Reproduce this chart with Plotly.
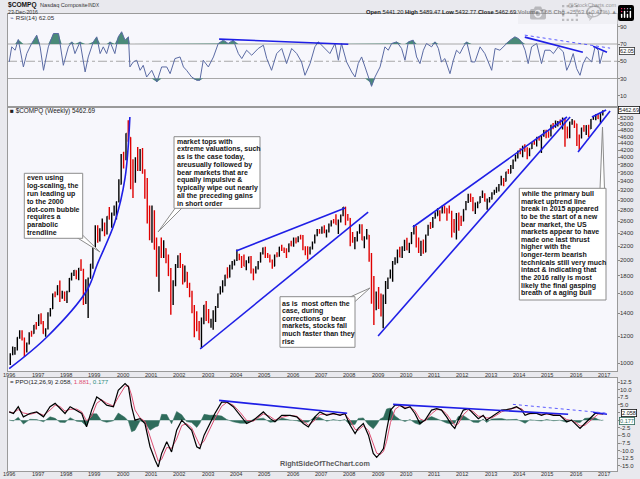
import numpy as np
import pandas as pd
import plotly.graph_objects as go
from datetime import datetime

# ---------------- DATA ----------------
bar_months = pd.date_range("1996-01-01", "2016-12-01", freq="MS") + pd.Timedelta(days=14)
first_open = 1052
price_close = [
    1060, 1100, 1101, 1191, 1243, 1185, 1081, 1141, 1227, 1222, 1293, 1291,
    1380, 1309, 1222, 1261, 1400, 1442, 1594, 1587, 1686, 1593, 1601, 1570,
    1619, 1771, 1835, 1868, 1779, 1895, 1873, 1499, 1694, 1771, 1950, 2193,
    2506, 2288, 2461, 2543, 2471, 2686, 2638, 2739, 2746, 2966, 3336, 4069,
    3940, 4697, 4573, 3861, 3401, 3966, 3767, 4206, 3673, 3370, 2598, 2471,
    2773, 2152, 1840, 2116, 2110, 2161, 2027, 1805, 1499, 1690, 1931, 1950,
    1934, 1731, 1845, 1688, 1616, 1463, 1328, 1315, 1172, 1330, 1479, 1336,
    1321, 1338, 1341, 1464, 1596, 1623, 1735, 1810, 1787, 1932, 1960, 2003,
    2066, 2030, 1994, 1920, 1987, 2048, 1887, 1838, 1897, 1975, 2097, 2175,
    2062, 2052, 1999, 1922, 2068, 2057, 2185, 2152, 2152, 2120, 2233, 2205,
    2306, 2281, 2340, 2323, 2179, 2172, 2091, 2184, 2258, 2367, 2432, 2415,
    2464, 2416, 2422, 2525, 2605, 2603, 2546, 2596, 2702, 2859, 2661, 2652,
    2390, 2271, 2279, 2413, 2523, 2293, 2326, 2368, 2092, 1721, 1536, 1577,
    1476, 1378, 1529, 1717, 1774, 1835, 1979, 2009, 2122, 2045, 2145, 2269,
    2147, 2238, 2398, 2461, 2257, 2109, 2255, 2114, 2369, 2507, 2498, 2653,
    2700, 2782, 2781, 2874, 2835, 2774, 2756, 2579, 2415, 2684, 2620, 2605,
    2814, 2967, 3091, 3046, 2827, 2935, 2940, 3067, 3116, 2977, 3010, 3020,
    3142, 3160, 3268, 3329, 3456, 3403, 3626, 3590, 3771, 3920, 4060, 4177,
    4104, 4308, 4199, 4115, 4243, 4408, 4370, 4580, 4493, 4631, 4792, 4736,
    4635, 4964, 4901, 4941, 5070, 4987, 5128, 4777, 4620, 5054, 5109, 5007,
    4614, 4558, 4870, 4775, 4948, 4843, 5162, 5213, 5312, 5189, 5324, 5463,
]
price_high = [
    1070, 1120, 1115, 1191, 1250, 1249, 1190, 1150, 1232, 1245, 1293, 1320,
    1390, 1400, 1330, 1265, 1410, 1450, 1600, 1620, 1690, 1745, 1630, 1620,
    1630, 1775, 1840, 1875, 1870, 1900, 2015, 1890, 1760, 1780, 1950, 2200,
    2530, 2530, 2480, 2650, 2580, 2690, 2865, 2760, 2890, 2970, 3450, 4090,
    4150, 4700, 5132, 4580, 3950, 4000, 4290, 4230, 4260, 3690, 3480, 2890,
    2890, 2800, 2330, 2200, 2330, 2290, 2170, 2080, 1900, 1750, 1950, 2070,
    2100, 1950, 1930, 1850, 1720, 1630, 1480, 1420, 1330, 1360, 1480, 1520,
    1440, 1350, 1430, 1470, 1600, 1680, 1750, 1815, 1910, 1940, 1990, 2010,
    2150, 2090, 2060, 2080, 2000, 2050, 2060, 1890, 1920, 1990, 2110, 2180,
    2190, 2100, 2080, 2010, 2080, 2110, 2190, 2220, 2180, 2170, 2240, 2280,
    2330, 2330, 2350, 2375, 2370, 2200, 2200, 2190, 2270, 2380, 2470, 2470,
    2510, 2530, 2460, 2560, 2620, 2640, 2725, 2630, 2720, 2861, 2870, 2730,
    2660, 2420, 2340, 2430, 2550, 2550, 2350, 2470, 2370, 2100, 1800, 1620,
    1670, 1600, 1590, 1740, 1780, 1880, 1990, 2040, 2150, 2190, 2200, 2295,
    2326, 2250, 2420, 2535, 2520, 2330, 2280, 2300, 2380, 2540, 2590, 2675,
    2765, 2840, 2800, 2885, 2890, 2840, 2890, 2790, 2640, 2750, 2760, 2700,
    2820, 2980, 3130, 3135, 3060, 2950, 2970, 3080, 3200, 3140, 3030, 3060,
    3160, 3215, 3270, 3340, 3530, 3480, 3630, 3700, 3800, 3940, 4070, 4180,
    4250, 4320, 4370, 4280, 4250, 4410, 4490, 4580, 4610, 4640, 4810, 4815,
    4770, 4980, 5040, 5120, 5110, 5160, 5230, 5180, 4920, 5090, 5180, 5120,
    5010, 4660, 4880, 4970, 4960, 4980, 5180, 5270, 5340, 5340, 5400, 5489,
]
price_low = [
    988, 1055, 1060, 1090, 1180, 1165, 1043, 1075, 1135, 1195, 1220, 1255,
    1285, 1300, 1220, 1195, 1255, 1370, 1440, 1560, 1580, 1510, 1545, 1520,
    1500, 1615, 1745, 1800, 1760, 1750, 1860, 1480, 1490, 1357, 1770, 1890,
    2170, 2250, 2270, 2430, 2350, 2380, 2630, 2490, 2700, 2630, 2950, 3330,
    3710, 3920, 4440, 3227, 3042, 3370, 3650, 3650, 3580, 3025, 2560, 2290,
    2250, 2150, 1790, 1619, 2030, 2030, 1960, 1800, 1387, 1480, 1680, 1900,
    1900, 1700, 1730, 1660, 1560, 1400, 1192, 1240, 1170, 1108, 1300, 1330,
    1310, 1270, 1253, 1320, 1450, 1590, 1610, 1680, 1770, 1780, 1880, 1930,
    1990, 2000, 1900, 1920, 1870, 1960, 1830, 1750, 1830, 1880, 1970, 2080,
    2030, 2030, 1970, 1890, 1920, 2040, 2050, 2130, 2100, 2030, 2110, 2200,
    2190, 2240, 2260, 2300, 2140, 2070, 2012, 2080, 2150, 2240, 2350, 2390,
    2390, 2400, 2330, 2410, 2510, 2560, 2540, 2386, 2580, 2690, 2530, 2610,
    2200, 2250, 2155, 2270, 2390, 2290, 2170, 2300, 1980, 1493, 1295, 1430,
    1440, 1370, 1265, 1490, 1650, 1770, 1730, 1940, 1960, 2040, 2030, 2130,
    2140, 2100, 2230, 2380, 2180, 2100, 2060, 2090, 2110, 2360, 2470, 2490,
    2650, 2700, 2600, 2740, 2740, 2610, 2740, 2330, 2410, 2300, 2440, 2520,
    2600, 2800, 2940, 2960, 2780, 2730, 2840, 2940, 3040, 2970, 2810, 2950,
    3010, 3110, 3150, 3180, 3310, 3290, 3400, 3580, 3590, 3700, 3890, 3970,
    4080, 4000, 4150, 3950, 4030, 4230, 4350, 4300, 4480, 4120, 4590, 4550,
    4560, 4600, 4830, 4880, 4920, 4960, 4820, 4292, 4540, 4550, 4980, 4870,
    4313, 4210, 4540, 4750, 4650, 4575, 4840, 5150, 5130, 5180, 5030, 5300,
]
price_open = [first_open] + price_close[:-1]

rsi_years = [
    1996.00, 1996.09, 1996.21, 1996.32, 1996.50, 1996.62, 1996.79, 1996.97,
    1997.09, 1997.21, 1997.38, 1997.56, 1997.74, 1997.85, 1997.91,
    1998.09, 1998.21, 1998.32, 1998.50, 1998.68, 1998.79, 1998.97,
    1999.09, 1999.21, 1999.32, 1999.44, 1999.56, 1999.73, 1999.85, 1999.97,
    2000.09, 2000.21, 2000.26, 2000.38, 2000.50, 2000.62, 2000.73, 2000.85,
    2001.03, 2001.21, 2001.38, 2001.56, 2001.68, 2001.85,
    2002.03, 2002.15, 2002.26, 2002.44, 2002.62, 2002.73, 2002.85,
    2003.03, 2003.21, 2003.38, 2003.56, 2003.73, 2003.91,
    2004.09, 2004.21, 2004.38, 2004.56, 2004.79, 2004.97,
    2005.09, 2005.26, 2005.44, 2005.62, 2005.79, 2005.97,
    2006.15, 2006.32, 2006.44, 2006.62, 2006.79, 2006.91, 2006.97,
    2007.15, 2007.32, 2007.50, 2007.62, 2007.73, 2007.91,
    2008.09, 2008.21, 2008.32, 2008.44, 2008.56, 2008.73, 2008.79, 2008.91,
    2009.09, 2009.26, 2009.38, 2009.50, 2009.68, 2009.85, 2009.97,
    2010.09, 2010.26, 2010.38, 2010.50, 2010.62, 2010.73, 2010.91,
    2011.03, 2011.15, 2011.26, 2011.38, 2011.56, 2011.68, 2011.79, 2011.91,
    2012.03, 2012.15, 2012.32, 2012.44, 2012.62, 2012.79, 2012.91,
    2013.03, 2013.15, 2013.32, 2013.50, 2013.68, 2013.85, 2013.97,
    2014.09, 2014.21, 2014.32, 2014.44, 2014.62, 2014.79, 2014.91,
    2015.09, 2015.21, 2015.38, 2015.56, 2015.68, 2015.79, 2015.91,
    2016.03, 2016.15, 2016.26, 2016.38, 2016.56, 2016.68, 2016.79, 2016.85, 2016.97,
]
rsi_values = [
    49.2, 66.7, 62.8, 75.2, 43.4, 58.9, 70.6, 80.3,
    66.7, 39.5, 66.7, 82.2, 82.2, 58.9, 45.3,
    66.7, 72.5, 58.9, 72.5, 37.6, 55.0, 72.5,
    78.3, 58.9, 66.7, 58.9, 72.5, 58.9, 78.3, 84.2,
    74.5, 78.3, 43.4, 49.2, 51.2, 39.5, 45.3, 31.7,
    39.5, 25.9, 43.4, 43.4, 35.6, 53.1,
    55.0, 43.4, 39.5, 31.7, 27.9, 27.9, 51.2,
    43.4, 55.0, 70.6, 74.5, 70.6, 74.5,
    58.9, 53.1, 62.8, 57.0, 64.8, 68.6,
    53.1, 39.5, 58.9, 64.8, 47.3, 64.8,
    58.9, 49.2, 33.7, 47.3, 66.7, 72.5, 70.6,
    64.8, 58.9, 70.6, 51.2, 70.6, 49.2,
    37.6, 31.7, 47.3, 55.0, 43.4, 25.9, 20.9, 31.7,
    43.4, 66.7, 62.8, 70.6, 72.5, 64.8, 51.2,
    72.5, 74.5, 55.0, 47.3, 62.8, 70.6, 66.7,
    72.5, 64.8, 49.2, 53.1, 35.6, 51.2, 62.8, 58.9,
    66.7, 72.5, 49.2, 49.2, 66.7, 58.9, 49.2,
    39.5, 64.8, 62.8, 68.6, 74.5, 78.3, 76.4,
    72.5, 62.8, 47.3, 66.7, 70.6, 47.3, 62.8,
    62.8, 58.9, 66.7, 60.9, 39.5, 47.3, 58.9,
    41.5, 33.7, 47.3, 55.0, 49.2, 66.7, 62.8, 47.3, 62.05,
]

ppo_years = [
    1996.00, 1996.15, 1996.32, 1996.50, 1996.73, 1996.97,
    1997.21, 1997.44, 1997.62, 1997.79, 1997.97,
    1998.15, 1998.38, 1998.56, 1998.73, 1998.91,
    1999.09, 1999.26, 1999.44, 1999.68, 1999.85,
    2000.09, 2000.21, 2000.32, 2000.44, 2000.62, 2000.79, 2000.97,
    2001.15, 2001.26, 2001.38, 2001.56, 2001.73, 2001.91,
    2002.09, 2002.26, 2002.44, 2002.62, 2002.73, 2002.88,
    2003.09, 2003.26, 2003.50, 2003.68, 2003.91,
    2004.15, 2004.38, 2004.62, 2004.97,
    2005.21, 2005.38, 2005.62, 2005.91,
    2006.15, 2006.38, 2006.56, 2006.79, 2006.97,
    2007.21, 2007.44, 2007.68, 2007.85,
    2008.03, 2008.21, 2008.32, 2008.50, 2008.68, 2008.85, 2008.97,
    2009.09, 2009.21, 2009.32, 2009.46, 2009.62, 2009.79, 2009.97,
    2010.15, 2010.32, 2010.50, 2010.68, 2010.91,
    2011.09, 2011.26, 2011.44, 2011.62, 2011.73, 2011.85,
    2012.03, 2012.21, 2012.38, 2012.56, 2012.73, 2012.85,
    2013.03, 2013.21, 2013.38, 2013.56, 2013.73, 2013.91,
    2014.09, 2014.21, 2014.38, 2014.62, 2014.79, 2014.97,
    2015.21, 2015.44, 2015.68, 2015.85,
    2016.03, 2016.15, 2016.32, 2016.50, 2016.68, 2016.79, 2016.91, 2016.97,
]
ppo_values = [
    2.7, 2.2, 4.4, 1.1, 2.2, 2.7,
    1.1, 4.4, 5.5, 3.8, 2.2,
    4.4, 3.3, 2.2, -2.2, 3.3,
    7.6, 6.5, 4.9, 4.4, 9.8,
    12.0, 10.9, 4.4, 0.0, 0.5, -1.1, -8.7,
    -13.1, -15.3, -10.9, -7.1, -10.4, -3.3,
    0.0, -1.6, -3.3, -8.7, -9.3, -4.9,
    -1.1, 2.2, 5.9, 6.0, 4.4,
    1.6, -1.1, 0.0, 2.7,
    0.5, -0.5, 1.6, 1.6,
    1.1, -1.1, -2.2, 1.1, 2.7,
    1.6, 2.2, 1.6, 2.2,
    -1.6, -4.4, -2.7, -1.1, -4.9, -10.9, -12.2,
    -10.9, -9.3, -3.3, 3.3, 4.9, 4.9, 3.8,
    4.4, 2.2, -1.1, 0.0, 3.3,
    3.8, 3.3, 1.1, -1.6, -2.7, 0.0,
    3.3, 3.8, 2.2, 0.5, 1.6, 0.0,
    1.1, 2.2, 3.3, 3.5, 3.8, 4.4,
    3.3, 1.6, 2.2, 2.2, 1.6, 2.2,
    1.6, 1.6, -0.5, 0.0,
    -1.6, -2.7, -1.1, 0.5, 2.2, 2.2, 1.96, 2.06,
]

# trend lines: (decimal years, values)
parabola_years = [1996.0, 1997.33, 1998.75, 1999.10, 1999.73, 2000.09, 2000.26]
parabola_prices = [965, 1194, 1638, 1938, 2588, 3480, 5246]
price_line_years = [[2004.01, 2007.86], [2002.74, 2008.67], [2010.25, 2015.69],
                    [2009.02, 2015.80], [2016.08, 2017.21], [2016.57, 2017.07]]
price_line_values = [[2129, 2844], [1101, 2768], [2502, 5246],
                     [1202, 5246], [4145, 5462], [5246, 5499]]
rsi_line_years = [[2003.41, 2007.97], [2014.20, 2016.25], [2016.61, 2017.10]]
rsi_line_values = [[75.7, 69.8], [78.0, 60.5], [67.5, 60.5]]
rsi_dash_years = [2014.20, 2017.21]
rsi_dash_values = [80.3, 65.2]
ppo_line_years = [[2003.41, 2007.93], [2009.55, 2015.73], [2016.61, 2017.10]]
ppo_line_values = [[6.47, 2.27], [5.18, 1.94], [2.59, 1.94]]
ppo_dash_years = [2013.78, 2017.14]
ppo_dash_values = [5.18, 2.27]

year_labels = list(range(1996, 2018))
price_ticks = [1000, 1200, 1400, 1600, 1800, 2000, 2200, 2400, 2600, 2800, 3000,
               3200, 3400, 3600, 3800, 4000, 4200, 4400, 4600, 4800, 5000, 5200]
rsi_ticks = [10, 30, 50, 70, 90]
ppo_ticks = [-15, -12.5, -10, -7.5, -5, -2.5, 0, 2.5, 5, 7.5, 10, 12.5]
ppo_tick_labels = ["-15.0", "-12.5", "-10.0", "-7.5", "-5.0", "-2.5", "", "", "5.0", "7.5", "10.0", "12.5"]

note1 = ["even using", "log-scaling, the", "run leading up", "to the 2000",
         "dot-com bubble", "requires a", "parabolic", "trendline"]
note2 = ["market tops with", "extreme valuations, such", "as is the case today,",
         "areusually followed by", "bear markets that are", "equally impulsive &",
         "typically wipe out nearly", "all the preceding gains", "in short order"]
note3 = ["as is  most often the", "case, during", "corrections or bear",
         "markets, stocks fall", "much faster than they", "rise"]
note4 = ["while the primary bull", "market uptrend line", "break in 2015 appeared",
         "to be the start of a new", "bear market, the US", "markets appear to have",
         "made one last thrust", "higher with the", "longer-term bearish",
         "technicals still very much", "intact & indicating that",
         "the 2016 rally is most", "likely the final gasping", "breath of a aging bull"]

# ---------------- helpers ----------------
def dy(y):
    yr = int(np.floor(y))
    a, b = datetime(yr, 1, 1), datetime(yr + 1, 1, 1)
    return a + (b - a) * (y - yr)

def dys(ys):
    return [dy(v) for v in ys]

W, H = 640, 479
ML, MR, MT, MB = 8, 23, 14, 8
PW, PH = W - ML - MR, H - MT - MB

def px(x):
    return (x - ML) / PW

def py(y):
    return (H - MB - y) / PH

FONT = "Liberation Sans"
BLUE = "#1f1fe6"
x_range = [dy(1995.958), dy(2017.454)]

fig = go.Figure()

# ---- RSI panel ----
rsi_x = dys(rsi_years)
rsi = np.array(rsi_values)
fig.add_trace(go.Scatter(x=rsi_x, y=[70] * len(rsi), mode="lines", line=dict(width=0),
                         xaxis="x", yaxis="y", hoverinfo="skip"))
fig.add_trace(go.Scatter(x=rsi_x, y=np.maximum(rsi, 70), mode="lines", line=dict(width=0),
                         fill="tonexty", fillcolor="#4a8a78", xaxis="x", yaxis="y"))
fig.add_trace(go.Scatter(x=rsi_x, y=[30] * len(rsi), mode="lines", line=dict(width=0),
                         xaxis="x", yaxis="y", hoverinfo="skip"))
fig.add_trace(go.Scatter(x=rsi_x, y=np.minimum(rsi, 30), mode="lines", line=dict(width=0),
                         fill="tonexty", fillcolor="#4a8a78", xaxis="x", yaxis="y"))
fig.add_trace(go.Scatter(x=rsi_x, y=rsi, mode="lines", line=dict(color="#5a6aa3", width=1),
                         xaxis="x", yaxis="y"))
for yrs, vals in zip(rsi_line_years, rsi_line_values):
    fig.add_trace(go.Scatter(x=dys(yrs), y=vals, mode="lines",
                             line=dict(color=BLUE, width=1.6), xaxis="x", yaxis="y"))
fig.add_trace(go.Scatter(x=dys(rsi_dash_years), y=rsi_dash_values, mode="lines",
                         line=dict(color="#5a5aff", width=1, dash="dot"), xaxis="x", yaxis="y"))

# ---- price panel ----
fig.add_trace(go.Ohlc(x=bar_months, open=price_open, high=price_high, low=price_low,
                      close=price_close, tickwidth=0.3,
                      increasing=dict(line=dict(color="#000000", width=1.4)),
                      decreasing=dict(line=dict(color="#e00000", width=1.4)),
                      xaxis="x2", yaxis="y2"))
fig.add_trace(go.Scatter(x=dys(parabola_years), y=parabola_prices, mode="lines",
                         line=dict(color=BLUE, width=1.6, shape="spline", smoothing=1.0),
                         xaxis="x2", yaxis="y2"))
for yrs, vals in zip(price_line_years, price_line_values):
    fig.add_trace(go.Scatter(x=dys(yrs), y=vals, mode="lines",
                             line=dict(color=BLUE, width=1.6), xaxis="x2", yaxis="y2"))

# ---- PPO panel ----
t = np.array(ppo_years)
p = np.array(ppo_values)
tau = 4.5 / 52.0  # EMA(9) of weekly values, as a time constant in years
sig = np.empty_like(p)
sig[0] = p[0]
for i in range(1, len(p)):
    dt = t[i] - t[i - 1]
    m = (p[i] - p[i - 1]) / dt
    e = np.exp(-dt / tau)
    sig[i] = p[i] - m * tau + (sig[i - 1] - p[i - 1] + m * tau) * e
hist = p - sig
ppo_x = dys(ppo_years)
fig.add_trace(go.Scatter(x=ppo_x, y=hist, mode="lines", line=dict(width=0.5, color="#2e6b5b"),
                         fill="tozeroy", fillcolor="#2e6b5b", xaxis="x3", yaxis="y3"))
fig.add_trace(go.Scatter(x=ppo_x, y=sig, mode="lines", line=dict(color="#dd4f72", width=1),
                         xaxis="x3", yaxis="y3"))
fig.add_trace(go.Scatter(x=ppo_x, y=p, mode="lines", line=dict(color="#000000", width=1.2),
                         xaxis="x3", yaxis="y3"))
for yrs, vals in zip(ppo_line_years, ppo_line_values):
    fig.add_trace(go.Scatter(x=dys(yrs), y=vals, mode="lines",
                             line=dict(color=BLUE, width=1.6), xaxis="x3", yaxis="y3"))
fig.add_trace(go.Scatter(x=dys(ppo_dash_years), y=ppo_dash_values, mode="lines",
                         line=dict(color="#5a5aff", width=1, dash="dot"), xaxis="x3", yaxis="y3"))

# ---------------- layout ----------------
axis_line = dict(showline=True, mirror=True, linecolor="#9a9a9a", linewidth=1,
                 showgrid=False, zeroline=False, fixedrange=True)
xcommon = dict(range=x_range, type="date", showticklabels=False, ticks="", **axis_line)
ycommon = dict(side="right", ticks="outside", ticklen=2, tickcolor="#888",
               showticklabels=False, **axis_line)

fig.update_layout(
    width=W, height=H,
    margin=dict(l=ML, r=MR, t=MT, b=MB, autoexpand=False),
    paper_bgcolor="#e9e9ee", plot_bgcolor="#f7f7fc",
    showlegend=False, hovermode=False,
    font=dict(family=FONT),
    xaxis=dict(domain=[0, 1], anchor="y", **xcommon),
    yaxis=dict(domain=[py(107.3), 1.0], anchor="x", range=[-3.4, 104.8],
               tickvals=rsi_ticks, **ycommon),
    xaxis2=dict(domain=[0, 1], anchor="y2", rangeslider=dict(visible=False), **xcommon),
    yaxis2=dict(domain=[py(371), py(107.3)], anchor="x2", type="log",
                range=[np.log10(949.5), np.log10(5600)], tickvals=price_ticks, **ycommon),
    xaxis3=dict(domain=[0, 1], anchor="y3", **xcommon),
    yaxis3=dict(domain=[0, py(378)], anchor="x3", range=[-16.64, 13.81],
                tickvals=ppo_ticks, **ycommon),
)

shapes = []
# RSI reference lines
for lvl, dash in [(70, "solid"), (30, "solid"), (50, "dashdot")]:
    shapes.append(dict(type="line", xref="x domain", yref="y", x0=0, x1=1, y0=lvl, y1=lvl,
                       line=dict(color="#a8a8a8", width=1, dash=dash), layer="below"))

def pointer(pts):
    path = "M " + " L ".join(f"{px(a)},{py(b)}" for a, b in pts) + " Z"
    shapes.append(dict(type="path", xref="paper", yref="paper", path=path,
                       fillcolor="#ffffff", line=dict(color="#8c8c8c", width=1)))

def box(x0, y0, x1, y1):
    shapes.append(dict(type="rect", xref="paper", yref="paper",
                       x0=px(x0), x1=px(x1), y0=py(y1), y1=py(y0),
                       fillcolor="#ffffff", line=dict(color="#8c8c8c", width=1)))

pointer([(76, 237), (82.5, 235), (100, 252)])
box(24.3, 173.3, 82.7, 238.3)
pointer([(176, 207), (183, 207), (158, 232)])
box(174, 136.7, 260, 208.3)
pointer([(349, 297.5), (354.5, 302), (370, 288)])
box(280, 296.7, 355, 347.3)
pointer([(600, 189), (604.5, 189), (602.5, 127)])
box(519.3, 188.3, 606, 300)
fig.update_layout(shapes=shapes)

def text(x, y, s, size=7, color="#111", anchor="left", bold=False, **kw):
    if bold:
        s = f"<b>{s}</b>"
    fig.add_annotation(x=px(x), y=py(y), xref="paper", yref="paper", text=s, showarrow=False,
                       xanchor=anchor, yanchor="middle", borderpad=0, borderwidth=0,
                       font=dict(size=size, color=color, family=FONT), **kw)

def note(lines, x, y0, step):
    for i, s in enumerate(lines):
        text(x, y0 + i * step, s, size=7, color="#151515", bold=True)

note(note1, 26.5, 178.3, 7.7)
note(note2, 176.5, 141.7, 7.7)
note(note3, 281.7, 303.3, 7.7)
note(note4, 521, 194, 7.64)

# axis tick labels (right side) and year labels (under price and PPO panels)
TICKFONT = dict(size=6, color="#333", family=FONT)
for v in rsi_ticks:
    fig.add_annotation(x=px(620), y=v, xref="paper", yref="y", text=str(v), showarrow=False,
                       xanchor="left", yanchor="middle", borderpad=0, borderwidth=0, font=TICKFONT)
for v in price_ticks:
    fig.add_annotation(x=px(620), y=np.log10(v), xref="paper", yref="y2", text=str(v),
                       showarrow=False, xanchor="left", yanchor="middle", borderpad=0,
                       borderwidth=0, font=TICKFONT)
for v, lab in zip(ppo_ticks, ppo_tick_labels):
    if lab:
        fig.add_annotation(x=px(620), y=v, xref="paper", yref="y3", text=lab, showarrow=False,
                           xanchor="left", yanchor="middle", borderpad=0, borderwidth=0,
                           font=TICKFONT)
for yr in year_labels:
    for xa, ypix in [("x2", 374.8), ("x3", 474.3)]:
        fig.add_annotation(x=datetime(yr, 1, 1), y=py(ypix), xref=xa, yref="paper", text=str(yr),
                           showarrow=False, xanchor="center", yanchor="middle", borderpad=0,
                           borderwidth=0, font=dict(size=5.6, color="#333", family=FONT))

# header
text(7.5, 5, "$COMPQ", size=6.6, color="#111", bold=True)
text(39.5, 5.2, "Nasdaq Composite", size=5.6, color="#333")
text(87.5, 5.6, "INDX", size=4.6, color="#333")
text(7.5, 12, "23-Dec-2016", size=5.2, color="#333")
text(617, 4.5, "@StockCharts.com", size=5.6, color="#444", anchor="right")
text(617, 11.8, "<b>Open</b> 5441.20 <b>High</b> 5489.47 <b>Low</b> 5432.77 <b>Close</b> 5462.69 "
     "<b>Volume</b> 7.6B <b>Chg</b> +25.63 (+0.47%) ▲", size=5.8, color="#222", anchor="right")

# panel legends
text(10, 17.5, "<span style='color:#5a6aa3'>⌁</span> RSI(14) 62.05", size=6.2, color="#333")
text(10, 111, "■ $COMPQ (Weekly) 5462.69", size=6.4, color="#222")
text(10, 381.5, "= PPO(12,26,9) 2.058, <span style='color:#dd4f72'>1.881</span>, "
     "<span style='color:#2e8b7b'>0.177</span>", size=6.2, color="#222")

# right-axis value flags
def flag(x, y, s, border, color):
    fig.add_annotation(x=px(x), y=py(y), xref="paper", yref="paper", text=s,
                       showarrow=False, xanchor="left", yanchor="middle", bgcolor="#ffffff",
                       bordercolor=border, borderwidth=0.8, borderpad=0.3,
                       font=dict(size=5.5, color=color, family=FONT))

flag(618.5, 50.5, "62.05", "#333", "#111")
flag(617.5, 110, "5462.69", "#111", "#111")
flag(619, 420.8, "0.177", "#2e6b5b", "#2e6b5b")
flag(620.5, 413, "2.058", "#111", "#111")

# watermark
text(280, 463.5, "RightSideOfTheChart.com", size=7.2, color="#5a5a5a", bold=True)

fig.write_html("out.html", post_script="document.body.style.margin='0';"
               "document.body.style.overflow='hidden';")
